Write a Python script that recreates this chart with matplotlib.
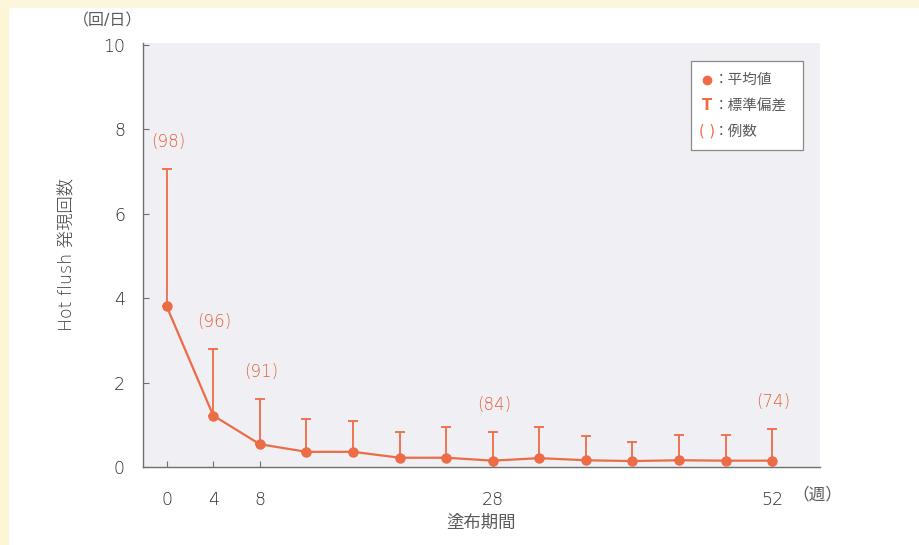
import matplotlib
matplotlib.use("Agg")
import matplotlib.pyplot as plt
from matplotlib.patches import Rectangle
import numpy as np

plt.rcParams['font.family'] = ['DejaVu Sans', 'Noto Sans CJK JP']

# ---- data ----
weeks = [0, 4, 8, 12, 16, 20, 24, 28, 32, 36, 40, 44, 48, 52]
mean_values = [3.81, 1.22, 0.54, 0.36, 0.36, 0.22, 0.22, 0.15, 0.21, 0.16, 0.14, 0.16, 0.15, 0.15]
sd_upper = [3.26, 1.58, 1.07, 0.77, 0.72, 0.60, 0.72, 0.67, 0.73, 0.57, 0.46, 0.60, 0.61, 0.74]
n_weeks = [0, 4, 8, 28, 52]
n_labels = ["(98)", "(96)", "(91)", "(84)", "(74)"]
xtick_vals = [0, 4, 8, 28, 52]
xtick_labels = ["0", "4", "8", "28", "52"]
ytick_vals = [0, 2, 4, 6, 8, 10]

ORANGE = "#ec6c46"
LABEL_ORANGE = "#e4603a"
GRAY = "#5a5a5a"
DIGIT_GRAY = "#2e2e2e"
LIGHT = 200

fig = plt.figure(figsize=(9.2, 5.45), dpi=100)
fig.patch.set_facecolor("white")
# cream border
fig.patches.append(Rectangle((0, 0), 8/920, 1, transform=fig.transFigure,
                             color="#fcf5d6", zorder=0))
fig.patches.append(Rectangle((0, 1 - 7/545), 1, 7/545, transform=fig.transFigure,
                             color="#fcf6dc", zorder=0))

ax = fig.add_axes([143/920, (545-467)/545, (820-143)/920, (467-43)/545])
ax.set_facecolor("#efeff4")

yerr = np.vstack([np.zeros(len(sd_upper)), sd_upper])
ax.errorbar(weeks, mean_values, yerr=yerr, fmt='-o', color=ORANGE,
            ecolor=ORANGE, elinewidth=1.3, capsize=3.4, capthick=1.3,
            lw=1.6, markersize=6.5, zorder=3, clip_on=False)

sd_lookup = dict(zip(weeks, [m + s for m, s in zip(mean_values, sd_upper)]))
for w, lab in zip(n_weeks, n_labels):
    ax.annotate(lab, xy=(w, sd_lookup[w]), xytext=(1, 19.5),
                textcoords="offset points", ha="center", va="center",
                fontsize=12, color=LABEL_ORANGE, fontweight=LIGHT)

ax.set_xlim(-2.03, 56.1)
ax.set_ylim(0, 10.05)
ax.set_xticks(xtick_vals)
ax.set_xticklabels(xtick_labels, fontweight=LIGHT)
ax.set_yticks(ytick_vals)
ax.set_yticklabels([str(v) for v in ytick_vals], fontweight=LIGHT)

for s in ["top", "right"]:
    ax.spines[s].set_visible(False)
for s in ["left", "bottom"]:
    ax.spines[s].set_color("#707070")
    ax.spines[s].set_linewidth(1.0)

ax.tick_params(axis="x", direction="in", length=4, width=0.8, color="#707070",
               labelsize=12.5, labelcolor=DIGIT_GRAY, pad=17)
ax.tick_params(axis="y", direction="in", length=4, width=0.8, color="#707070",
               labelsize=12.5, labelcolor=DIGIT_GRAY, pad=13)

ax.set_ylabel("Hot flush 発現回数", fontsize=12.5, color="#3c3c3c", va="center",
              fontweight=LIGHT)
ax.yaxis.set_label_coords(-0.112, 0.502)
ax.set_xlabel("塗布期間", fontsize=12.5, color=GRAY, va="center")
ax.xaxis.set_label_coords(0.5, -0.132)

fig.text(792/920, 1 - 494/545, "（週）", fontsize=12, color=GRAY,
         ha="left", va="center")
fig.text(108/920, 1 - 21/545, "（回/日）", fontsize=11.5, color=GRAY,
         ha="center", va="center")

# legend box
x0, x1 = (691-143)/677, (803-143)/677
y0, y1 = (467-150)/424, (467-61)/424
ax.add_patch(Rectangle((x0, y0), x1 - x0, y1 - y0, transform=ax.transAxes,
                       facecolor="white", edgecolor="#8a8a8a", lw=0.9, zorder=5))
rows = [0.913, 0.852, 0.792]
sx = (707-143)/677
tx = (714-143)/677
ax.plot([sx], [rows[0]], 'o', color=ORANGE, markersize=6, transform=ax.transAxes,
        zorder=6, clip_on=False)
ax.text(sx, rows[1], "T", color=ORANGE, fontsize=10.5, fontweight="bold",
        ha="center", va="center", transform=ax.transAxes, zorder=6)
ax.text(sx, rows[2], "( )", color=ORANGE, fontsize=10.5,
        ha="center", va="center", transform=ax.transAxes, zorder=6)
for r, t in zip(rows, ["：平均値", "：標準偏差", "：例数"]):
    ax.text(tx, r, t, color=GRAY, fontsize=10.5, ha="left", va="center",
            transform=ax.transAxes, zorder=6)

fig.savefig("out.png", dpi=100)
